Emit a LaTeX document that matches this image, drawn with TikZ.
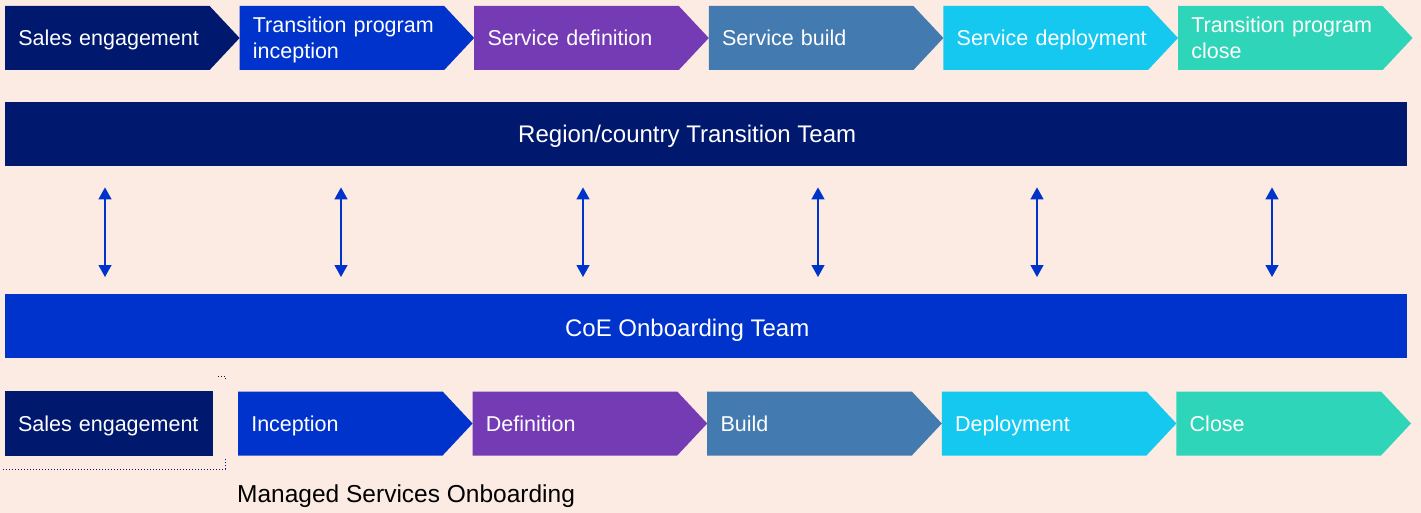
\documentclass[tikz,border=0pt]{standalone}
\usepackage{fontspec}
\setmainfont{Liberation Sans}
\usetikzlibrary{arrows.meta, positioning, shapes.symbols}

\definecolor{pagebg}{HTML}{FCEBE3}
\definecolor{navy}{HTML}{00186E}
\definecolor{coeblue}{HTML}{0033CC}
\definecolor{violet}{HTML}{753BB5}
\definecolor{steel}{HTML}{437AB0}
\definecolor{sky}{HTML}{14C8F0}
\definecolor{teal}{HTML}{2ED5B8}

\newcommand{\phasestrut}{\rule[-5pt]{0pt}{26pt}}

\tikzset{
    phase/.style={signal, signal to=east, signal from=nowhere, signal pointer angle=93.7,
        fill=#1, text=white, text width=178pt, align=left, inner xsep=13.3pt, inner ysep=0pt,
        outer sep=0pt, minimum height=64pt, font=\fontsize{21.5pt}{26pt}\selectfont,
        execute at begin node=\phasestrut, execute at end node=\phasestrut},
    salesbox/.style={rectangle, fill=navy, text=white, text width=182pt, align=left,
        inner xsep=13pt, inner ysep=0pt, outer sep=0pt, minimum height=65pt,
        font=\fontsize{21.5pt}{26pt}\selectfont,
        execute at begin node=\phasestrut, execute at end node=\phasestrut},
    band/.style={rectangle, fill=#1, minimum width=1402pt, minimum height=64pt, inner sep=0pt},
    band text/.style={text=white, inner sep=0pt, font=\fontsize{24pt}{28pt}\selectfont},
    link/.style={{Triangle[length=12pt,width=13pt]}-{Triangle[length=12pt,width=13pt]},
        coeblue, line width=1.3pt, shorten <=21pt, shorten >=17pt},
}

\begin{document}
\begin{tikzpicture}[x=1pt, y=-1pt, node distance=0pt]
    \fill[pagebg] (0,0) rectangle (1421,513);
    \useasboundingbox (0,0) rectangle (1421,513);

    % transition program phases
    \node[phase=navy, anchor=west]      (Phase 0) at (5,38) {\mbox{Sales engagement}};
    \node[phase=coeblue, right=of Phase 0] (Phase 1) {\mbox{Transition program}\\inception};
    \node[phase=violet, right=of Phase 1]  (Phase 2) {Service definition};
    \node[phase=steel, right=of Phase 2]   (Phase 3) {Service build};
    \node[phase=sky, right=of Phase 3]     (Phase 4) {\mbox{Service deployment}};
    \node[phase=teal, right=of Phase 4]    (Phase 5) {\mbox{Transition program}\\close};

    \node[band=navy, anchor=north west]    (Region Team) at (5,102) {};
    \node[band text] (Region Label) at ([xshift=-19pt,yshift=-2pt]Region Team.center) {Region/country Transition Team};

    \node[band=coeblue, anchor=north west] (CoE Team) at (5,294) {};
    \node[band text] (CoE Label) at ([xshift=-19pt,yshift=-4pt]CoE Team.center) {CoE Onboarding Team};

    \foreach \x in {105,341,583,818,1037,1272}
        \draw[link] (Region Team.south -| \x,0) -- (CoE Team.north -| \x,0);

    % onboarding steps
    \node[salesbox, anchor=north west]     (Step 0) at (5,391) {Sales engagement};
    \node[phase=coeblue, right=25pt of Step 0] (Step 1) {Inception};
    \node[phase=violet, right=of Step 1]   (Step 2) {Definition};
    \node[phase=steel, right=of Step 2]    (Step 3) {Build};
    \node[phase=sky, right=of Step 3]      (Step 4) {Deployment};
    \node[phase=teal, right=of Step 4]     (Step 5) {Close};

    \draw[navy, dotted, line width=1pt] (3,469) -- (225,469) -- (225,459)
        (218,376) -- (225,376) -- (225,380);

    \node[anchor=west, inner sep=0pt, font=\fontsize{24.5pt}{28pt}\selectfont]
        (Onboarding Title) at (237,496) {Managed Services Onboarding};
\end{tikzpicture}
\end{document}
